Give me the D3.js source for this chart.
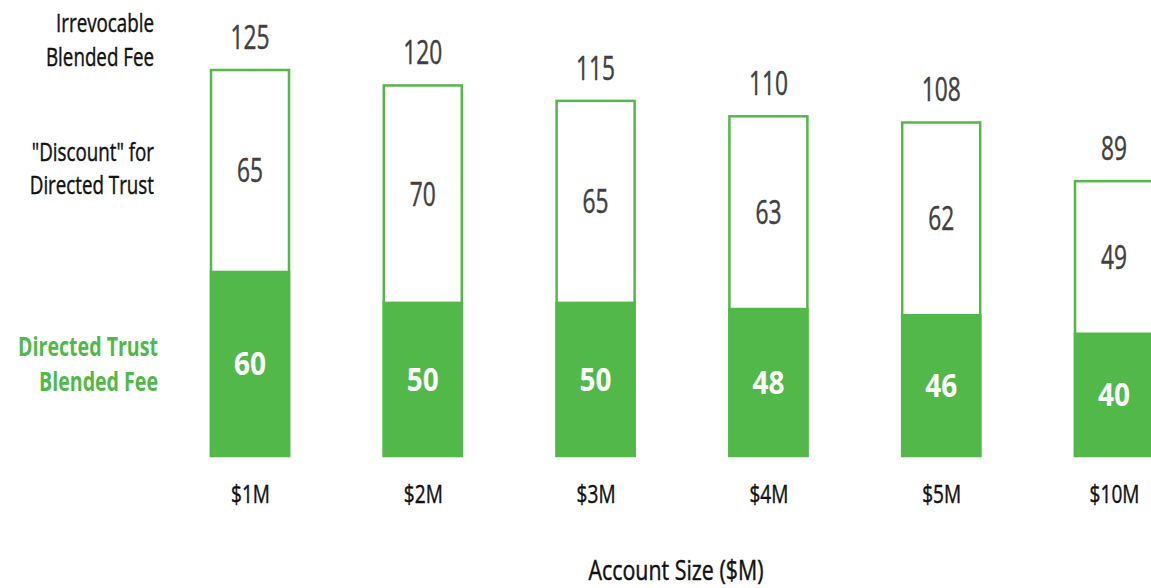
<!DOCTYPE html>
<html>
<head>
<meta charset="utf-8">
<script src="https://cdn.jsdelivr.net/npm/d3@7"></script>
<style>
  html, body { margin: 0; padding: 0; background: #fff; }
  svg { display: block; }
  text { font-family: "Open Sans", "Noto Sans", sans-serif; }
</style>
</head>
<body>
<svg id="chart" width="1151" height="588"></svg>
<script>
const categories = ["$1M", "$2M", "$3M", "$4M", "$5M", "$10M"];
const irrevocableFee = [125, 120, 115, 110, 108, 89];
const discount = [65, 70, 65, 63, 62, 49];
const directedFee = [60, 50, 50, 48, 46, 40];
const axisTitle = "Account Size ($M)";

const green = "#52b84a";
const svg = d3.select("#chart");

// horizontal condensing factors to mimic a condensed typeface
function condense(str, size, weight, target) {
  const p = svg.append("text").attr("font-size", size).attr("font-weight", weight).text(str);
  const w = p.node().getComputedTextLength();
  p.remove();
  return target / w;
}
const sxLabel = condense("Irrevocable", 26, "normal", 98);
const sxGreen = condense("Directed Trust", 26, "bold", 140);
const sxTitle = condense(axisTitle, 26.5, "normal", 175);
const sxTick = condense("$1M", 26, "normal", 39);
const sxNum = condense("125", 32, "normal", 39);
const sxBold = condense("60", 32, "bold", 32);

function label(parent, x, y, str, o) {
  const t = parent.append("text")
    .attr("transform", `translate(${x},${y}) scale(${o.sx},1)`)
    .attr("text-anchor", o.anchor || "middle")
    .attr("font-size", o.size)
    .attr("font-weight", o.weight || "normal")
    .attr("fill", o.color)
    .text(str);
  if (!o.weight || o.weight === "normal") {
    t.attr("stroke", o.color).attr("stroke-width", 0.45);
  }
  return t;
}

const x = d3.scalePoint().domain(categories).range([250, 1114]);
const y = d3.scaleLinear().domain([0, 125]).range([456, 70]);
const barW = 78;

const data = categories.map((c, i) => ({
  c, total: irrevocableFee[i], disc: discount[i], dir: directedFee[i]
}));

const g = svg.append("g");

g.selectAll("rect.outline").data(data).join("rect")
  .attr("class", "outline")
  .attr("x", d => x(d.c) - barW / 2)
  .attr("y", d => y(d.total))
  .attr("width", barW)
  .attr("height", d => y(0) - y(d.total))
  .attr("fill", "#fff")
  .attr("stroke", green)
  .attr("stroke-width", 2.5);

g.selectAll("rect.dir").data(data).join("rect")
  .attr("class", "dir")
  .attr("x", d => x(d.c) - barW / 2 - 1.25)
  .attr("y", d => y(d.dir))
  .attr("width", barW + 2.5)
  .attr("height", d => y(0) - y(d.dir) + 1)
  .attr("fill", green);

data.forEach(d => {
  label(g, x(d.c), y(d.total) - 21, d.total, { size: 32, color: "#404040", sx: sxNum });
  label(g, x(d.c), (y(d.total) + y(d.dir)) / 2 + 12, d.disc, { size: 32, color: "#404040", sx: sxNum });
  label(g, x(d.c), (y(d.dir) + y(0)) / 2 + 12, d.dir, { size: 32, color: "#fff", weight: "bold", sx: sxBold });
});

// x axis labels
const xAxis = d3.axisBottom(x).tickSize(0).tickPadding(0);
const ax = svg.append("g").attr("transform", "translate(0,503)").call(xAxis);
ax.select(".domain").remove();
ax.selectAll("text")
  .attr("dy", null)
  .attr("y", 0)
  .attr("transform", `scale(${sxTick},1)`)
  .attr("font-size", 26)
  .attr("font-family", null)
  .attr("fill", "#111")
  .attr("stroke", "#111")
  .attr("stroke-width", 0.45);

label(svg, 676, 580, axisTitle, { size: 26.5, color: "#111", sx: sxTitle });

const leftLabels = [
  { lines: ["Irrevocable", "Blended Fee"], y: [32, 66], color: "#111", weight: "normal", x: 154, sx: sxLabel },
  { lines: ["\"Discount\" for", "Directed Trust"], y: [161, 194], color: "#111", weight: "normal", x: 154, sx: sxLabel },
  { lines: ["Directed Trust", "Blended Fee"], y: [356, 391], color: green, weight: "bold", x: 158, sx: sxGreen }
];
leftLabels.forEach(l => {
  l.lines.forEach((t, i) => {
    label(svg, l.x, l.y[i], t, { size: 26, color: l.color, weight: l.weight, anchor: "end", sx: l.sx });
  });
});
</script>
</body>
</html>
